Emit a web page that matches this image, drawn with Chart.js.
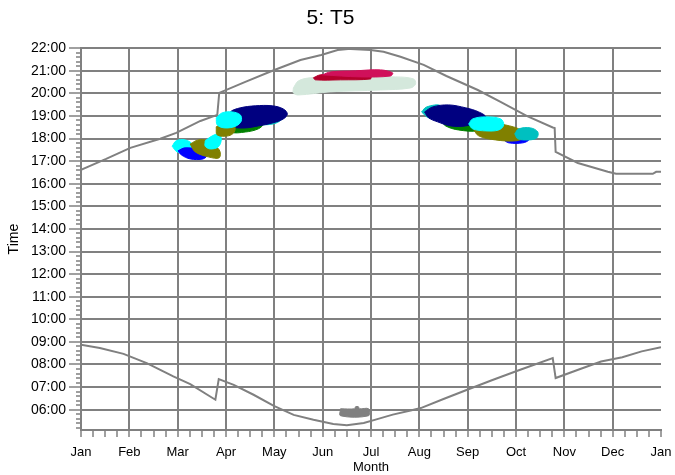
<!DOCTYPE html>
<html>
<head>
<meta charset="utf-8">
<script src="https://cdn.jsdelivr.net/npm/chart.js@4.4.0/dist/chart.umd.min.js"></script>
<style>
  html, body { margin: 0; padding: 0; background: #fff; }
  #wrap { width: 675px; height: 475px; }
</style>
</head>
<body>
<div id="wrap"><canvas id="chart"></canvas></div>
<script>
// x = position in the year in months (0 = 1 Jan, 12 = end of Dec), y = clock hour
const monthLabels = ['Jan', 'Feb', 'Mar', 'Apr', 'May', 'Jun', 'Jul', 'Aug', 'Sep', 'Oct', 'Nov', 'Dec', 'Jan'];
const hourTicks = [6, 7, 8, 9, 10, 11, 12, 13, 14, 15, 16, 17, 18, 19, 20, 21, 22];
const hourLabels = ['06:00', '07:00', '08:00', '09:00', '10:00', '11:00', '12:00', '13:00', '14:00',
    '15:00', '16:00', '17:00', '18:00', '19:00', '20:00', '21:00', '22:00'];

const sunsetMonth = [0, 0.52, 1.02, 1.64, 1.97, 2.47, 2.82, 2.86, 3.40, 3.96, 4.54, 4.97, 5.31, 5.58, 5.99, 6.26,
    6.61, 7.09, 7.56, 8.21, 8.68, 9.22, 9.76, 9.80, 9.82, 10.28, 10.90, 11.07, 11.83, 11.90, 12];
const sunsetHour = [16.62, 17.10, 17.59, 17.99, 18.25, 18.78, 19.05, 20.02, 20.51, 21.00, 21.48, 21.70, 21.92, 21.97,
    21.92, 21.84, 21.62, 21.26, 20.77, 20.15, 19.62, 19.00, 18.49, 18.47, 17.41, 16.92, 16.53, 16.44, 16.44, 16.53, 16.53];

const sunriseMonth = [0, 0.39, 0.88, 1.36, 1.91, 2.26, 2.78, 2.85, 3.16, 3.57, 3.99, 4.40, 4.81, 5.22, 5.50, 5.85,
    6.13, 6.45, 6.82, 7.03, 7.50, 7.99, 8.50, 9.03, 9.76, 9.82, 10.30, 10.76, 11.20, 11.60, 12];
const sunriseHour = [8.87, 8.73, 8.47, 8.06, 7.47, 7.13, 6.44, 7.35, 7.10, 6.66, 6.17, 5.77, 5.55, 5.37, 5.31, 5.41,
    5.58, 5.78, 5.96, 6.07, 6.47, 6.88, 7.30, 7.72, 8.28, 7.40, 7.78, 8.13, 8.32, 8.58, 8.76];

// shadow periods, outlines as [month, hour]
const marCyanA = [[1.886, 17.66], [1.969, 17.90], [2.155, 17.94], [2.301, 17.76], [2.301, 17.50], [2.176, 17.37], [1.990, 17.41]];
const marBlue = [[2.010, 17.46], [2.155, 17.59], [2.466, 17.50], [2.611, 17.28], [2.528, 17.10], [2.259, 17.10], [2.073, 17.28]];
const marOlive = [[2.259, 17.76], [2.425, 17.94], [2.611, 17.90], [2.860, 17.50], [2.860, 17.15], [2.632, 17.19], [2.363, 17.41]];
const marCyanB = [[2.570, 17.90], [2.715, 18.12], [2.860, 18.20], [2.902, 17.94], [2.839, 17.63], [2.674, 17.54], [2.570, 17.66]];

const aprTeal = [[3.503, 19.18], [3.813, 19.36], [4.083, 19.36], [4.208, 19.14], [4.166, 18.87], [3.979, 18.65], [3.648, 18.65], [3.503, 18.92]];
const aprGreen = [[2.984, 18.65], [3.192, 18.78], [3.606, 18.78], [3.772, 18.65], [3.668, 18.43], [3.399, 18.29], [3.088, 18.29]];
const aprNavy = [[3.005, 18.83], [3.088, 19.18], [3.295, 19.36], [3.606, 19.45], [3.959, 19.45], [4.187, 19.31], [4.269, 19.09],
    [4.187, 18.87], [3.959, 18.69], [3.668, 18.56], [3.399, 18.47], [3.150, 18.52]];
const aprOlive = [[2.798, 18.52], [2.922, 18.65], [3.171, 18.56], [3.171, 18.29], [3.047, 18.12], [2.819, 18.16]];
const aprCyan = [[2.798, 18.92], [2.922, 19.14], [3.130, 19.18], [3.295, 19.05], [3.316, 18.78], [3.212, 18.56], [2.984, 18.47], [2.819, 18.60]];

const junMint = [[4.394, 20.24], [4.497, 20.55], [4.746, 20.69], [5.575, 20.73], [6.508, 20.73], [6.881, 20.64], [6.922, 20.42],
    [6.819, 20.24], [6.197, 20.15], [5.161, 20.07], [4.497, 19.93], [4.394, 20.02]];
const junRed = [[4.808, 20.69], [4.953, 20.82], [5.472, 20.86], [5.990, 20.77], [5.990, 20.64], [5.368, 20.60], [4.850, 20.60]];
const junMagenta = [[4.995, 20.82], [5.161, 20.95], [5.679, 21.00], [6.197, 21.04], [6.446, 20.91], [6.404, 20.77], [5.782, 20.73]];
const junGrey = [[5.37, 6.04], [5.66, 6.04], [5.68, 6.13], [5.74, 6.13], [5.76, 6.04], [5.95, 6.04], [5.95, 5.73], [5.37, 5.73]];

const augTeal = [[7.047, 19.18], [7.150, 19.40], [7.440, 19.45], [7.440, 18.92], [7.192, 18.92]];
const augGreen = [[7.440, 18.83], [7.855, 18.92], [8.373, 18.83], [8.435, 18.56], [8.228, 18.34], [7.813, 18.38], [7.544, 18.56]];
const augNavy = [[7.109, 19.18], [7.275, 19.40], [7.606, 19.49], [7.959, 19.36], [8.228, 19.18], [8.373, 18.96], [8.228, 18.74],
    [7.959, 18.56], [7.648, 18.56], [7.378, 18.74], [7.192, 18.92]];
const sepBlue = [[8.746, 17.94], [8.891, 18.07], [9.202, 18.07], [9.264, 17.94], [9.140, 17.81], [8.850, 17.81]];
const sepOlive = [[8.104, 18.47], [8.373, 18.74], [8.788, 18.60], [9.098, 18.38], [9.181, 18.07], [8.995, 17.90], [8.580, 17.94], [8.228, 18.12]];
const sepCyan = [[8.021, 18.65], [8.104, 18.87], [8.373, 18.96], [8.684, 18.87], [8.746, 18.60], [8.642, 18.38], [8.373, 18.34], [8.104, 18.43]];
const sepTeal = [[8.974, 18.21], [9.057, 18.43], [9.306, 18.47], [9.451, 18.29], [9.430, 18.03], [9.264, 17.94], [9.036, 17.99]];

const GREY = '#808080';
const NAVY = '#000080', CYAN = '#00ffff', TEAL = '#00c0c0', OLIVE = '#808000',
    GREEN = '#008000', BLUE = '#0000ff', MINT = '#d4e8dc', RED = '#b4002c', MAGENTA = '#d0105a';

// bottom to top
const shapes = [
    [marCyanA, CYAN], [marBlue, BLUE], [marOlive, OLIVE], [marCyanB, CYAN],
    [aprTeal, TEAL], [aprGreen, GREEN], [aprNavy, NAVY], [aprOlive, OLIVE], [aprCyan, CYAN],
    [junMint, MINT], [junRed, RED], [junMagenta, MAGENTA], [junGrey, GREY],
    [augTeal, TEAL], [augGreen, GREEN], [augNavy, NAVY], [sepBlue, BLUE], [sepOlive, OLIVE], [sepCyan, CYAN], [sepTeal, TEAL]
];

function toPoints(xs, ys) {
    return xs.map((x, i) => ({ x: x, y: ys[i] }));
}

const datasets = [];
datasets.push({
    data: toPoints(sunsetMonth, sunsetHour),
    showLine: true, borderColor: GREY, borderWidth: 2, pointRadius: 0, tension: 0
});
datasets.push({
    data: toPoints(sunriseMonth, sunriseHour),
    showLine: true, borderColor: GREY, borderWidth: 2, pointRadius: 0, tension: 0
});
// chart.js paints dataset 0 last, so the top shape goes first
shapes.slice().reverse().forEach(([pts, color]) => {
    const data = pts.map(p => ({ x: p[0], y: p[1] }));
    data.push({ x: pts[0][0], y: pts[0][1] });
    datasets.push({
        data: data, showLine: true, fill: 'shape', tension: 0.35,
        backgroundColor: color, borderColor: color, borderWidth: 1, pointRadius: 0
    });
});

const isWhole = v => Math.abs(v - Math.round(v)) < 1e-6;

new Chart(document.getElementById('chart'), {
    type: 'scatter',
    data: { datasets: datasets },
    options: {
        responsive: true,
        maintainAspectRatio: false,
        animation: false,
        layout: { padding: { left: 0, right: 14, top: 0, bottom: 0 } },
        plugins: {
            legend: { display: false },
            tooltip: { enabled: false },
            title: {
                display: true,
                text: '5: T5',
                color: '#000',
                font: { family: 'Liberation Sans', size: 21, weight: 'normal' },
                padding: { top: 6, bottom: 17 }
            }
        },
        scales: {
            x: {
                type: 'linear',
                min: 0,
                max: 12,
                z: 1,
                afterFit: scale => {
                    scale.height = 45;
                    // don't let the end labels shrink the plot
                    scale.paddingLeft = 0;
                    scale.paddingRight = 0;
                },
                afterBuildTicks: scale => {
                    const ticks = [];
                    for (let i = 0; i <= 48; i++) ticks.push({ value: i / 4 });
                    scale.ticks = ticks;
                },
                ticks: {
                    autoSkip: false,
                    maxRotation: 0,
                    padding: 8,
                    color: '#000',
                    font: { family: 'Liberation Sans', size: 13 },
                    callback: value => isWhole(value) ? monthLabels[Math.round(value)] : ''
                },
                grid: {
                    color: ctx => (ctx.tick && isWhole(ctx.tick.value) && ctx.tick.value < 12) ? GREY : 'transparent',
                    lineWidth: 2,
                    tickColor: GREY,
                    tickWidth: 1.5,
                    tickLength: 7
                },
                border: { color: GREY, width: 2 },
                title: {
                    display: true,
                    text: 'Month',
                    color: '#000',
                    font: { family: 'Liberation Sans', size: 13 },
                    padding: { top: 0, bottom: 0 }
                }
            },
            y: {
                type: 'linear',
                min: 5.1,
                max: 22,
                z: 1,
                afterFit: scale => { scale.width = 81; },
                afterBuildTicks: scale => {
                    const ticks = [];
                    for (let v = 26; v <= 110; v++) ticks.push({ value: v / 5 });
                    scale.ticks = ticks;
                },
                ticks: {
                    autoSkip: false,
                    padding: 3,
                    color: '#000',
                    font: { family: 'Liberation Sans', size: 14 },
                    callback: value => {
                        const i = hourTicks.findIndex(h => Math.abs(h - value) < 1e-6);
                        return i >= 0 ? hourLabels[i] : '';
                    }
                },
                grid: {
                    color: ctx => (ctx.tick && isWhole(ctx.tick.value)) ? GREY : 'transparent',
                    lineWidth: 2,
                    tickColor: GREY,
                    tickWidth: 1.5,
                    tickLength: 12,
                    tickBorderDash: ctx => (ctx.tick && isWhole(ctx.tick.value)) ? [] : [0, 7, 5, 20]
                },
                border: { color: GREY, width: 2 },
                title: {
                    display: true,
                    text: 'Time',
                    color: '#000',
                    font: { family: 'Liberation Sans', size: 14 },
                    padding: { top: 6, bottom: 0 }
                }
            }
        }
    }
});
</script>
</body>
</html>
